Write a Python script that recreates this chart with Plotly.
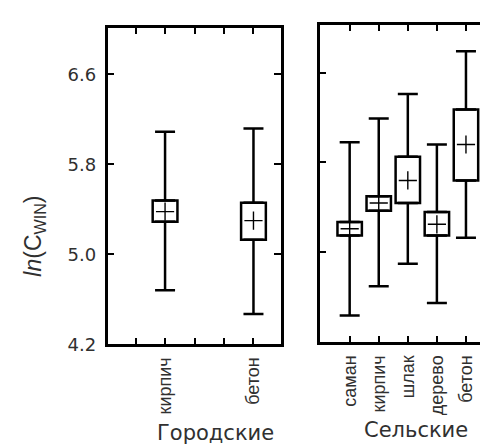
import plotly.graph_objects as go

# ---- data ----
urban_categories = ["кирпич", "бетон"]
urban_slots = [2, 5]            # tick slots (1..5) where the urban boxes sit
urban_lower = [4.68, 4.47]
urban_q1 = [5.29, 5.13]
urban_center = [5.38, 5.30]
urban_q3 = [5.48, 5.46]
urban_upper = [6.09, 6.12]

rural_categories = ["саман", "кирпич", "шлак", "дерево", "бетон"]
rural_slots = [1, 2, 3, 4, 5]
rural_lower = [4.44, 4.70, 4.90, 4.55, 5.13]
rural_q1 = [5.15, 5.37, 5.44, 5.15, 5.64]
rural_center = [5.21, 5.44, 5.64, 5.25, 5.96]
rural_q3 = [5.27, 5.50, 5.85, 5.36, 6.27]
rural_upper = [5.98, 6.19, 6.41, 5.96, 6.79]

y_ticks = [4.2, 5.0, 5.8, 6.6]
slot_ticks = [1, 2, 3, 4, 5]

W, H = 488, 448


def px(x):
    return x / W


def py(y):
    return 1 - y / H


FONT_H = "DejaVu Sans, Verdana, sans-serif"
FONT_V = "Liberation Sans, Arial, sans-serif"
TXT = "#303030"
LW = 2.5

fig = go.Figure()


def add_panel(slots, lower, q1, center, q3, upper, xa, ya):
    heights = [b - a for a, b in zip(q1, q3)]
    fig.add_trace(go.Bar(
        x=slots, y=heights, base=q1, width=0.84,
        marker=dict(color="white", line=dict(color="black", width=LW)),
        xaxis=xa, yaxis=ya, showlegend=False, hoverinfo="skip"))
    fig.add_trace(go.Scatter(
        x=slots, y=q3, mode="markers", marker=dict(size=1, opacity=0),
        error_y=dict(type="data", symmetric=False,
                     array=[u - t for u, t in zip(upper, q3)],
                     arrayminus=[0] * len(slots),
                     width=10, thickness=LW, color="black"),
        xaxis=xa, yaxis=ya, showlegend=False, hoverinfo="skip"))
    fig.add_trace(go.Scatter(
        x=slots, y=q1, mode="markers", marker=dict(size=1, opacity=0),
        error_y=dict(type="data", symmetric=False,
                     array=[0] * len(slots),
                     arrayminus=[b - l for b, l in zip(q1, lower)],
                     width=10, thickness=LW, color="black"),
        xaxis=xa, yaxis=ya, showlegend=False, hoverinfo="skip"))
    fig.add_trace(go.Scatter(
        x=slots, y=center, mode="markers",
        marker=dict(symbol="cross-thin", size=13,
                    line=dict(color="black", width=1.4)),
        xaxis=xa, yaxis=ya, showlegend=False, hoverinfo="skip"))


add_panel(urban_slots, urban_lower, urban_q1, urban_center, urban_q3,
          urban_upper, "x", "y")
add_panel(rural_slots, rural_lower, rural_q1, rural_center, rural_q3,
          rural_upper, "x2", "y2")

axis_common = dict(showline=True, linecolor="black", linewidth=LW,
                   mirror="ticks", ticks="inside", ticklen=7, tickwidth=2,
                   tickcolor="black", showgrid=False, zeroline=False)
minor_common = dict(ticks="inside", ticklen=7, tickwidth=2,
                    tickcolor="black", showgrid=False)

fig.update_layout(
    width=W, height=H, margin=dict(l=0, r=0, t=0, b=0),
    paper_bgcolor="white", plot_bgcolor="white",
    xaxis=dict(axis_common, domain=[px(100), px(274)], range=[0.05, 5.93],
               tickvals=urban_slots, ticktext=urban_categories,
               tickangle=-90,
               minor=dict(minor_common,
                          tickvals=[s for s in slot_ticks
                                    if s not in urban_slots]),
               tickfont=dict(family=FONT_V, size=18, color=TXT),
               ticklabelstandoff=3, anchor="y"),
    yaxis=dict(axis_common, domain=[py(344), py(20)],
               range=[4.2, 7.017], tickvals=y_ticks,
               ticktext=[f"{v:.1f}" for v in y_ticks],
               tickfont=dict(family=FONT_H, size=18, color=TXT),
               ticklabelstandoff=5, anchor="x"),
    xaxis2=dict(axis_common, domain=[px(313), px(487)], range=[-0.03, 5.93],
                tickvals=rural_slots, ticktext=rural_categories,
                tickangle=-90,
                tickfont=dict(family=FONT_V, size=18, color=TXT),
                ticklabelstandoff=3, anchor="y2"),
    yaxis2=dict(axis_common, domain=[py(342), py(17)],
                range=[4.2, 7.026], tickvals=y_ticks, showticklabels=False,
                anchor="x2"),
)

fig.add_annotation(text="<i>ln</i>(C<sub>WIN</sub>)", xref="paper",
                   yref="paper", x=px(27), y=py(233), showarrow=False,
                   textangle=-90, xanchor="center", yanchor="middle",
                   font=dict(family=FONT_V, size=23, color=TXT))
fig.add_annotation(text="Городские", xref="paper", yref="paper",
                   x=px(208), y=py(435), showarrow=False,
                   xanchor="center", yanchor="middle",
                   font=dict(family=FONT_H, size=21, color=TXT))
fig.add_annotation(text="Сельские", xref="paper", yref="paper",
                   x=px(410), y=py(432), showarrow=False,
                   xanchor="center", yanchor="middle",
                   font=dict(family=FONT_H, size=21, color=TXT))

fig.write_html("out.html")
